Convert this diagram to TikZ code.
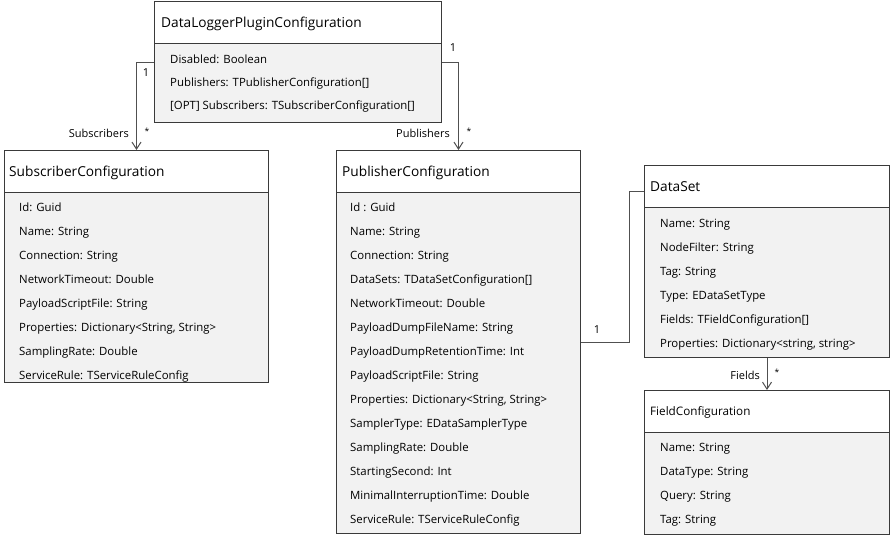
\documentclass[tikz,border=0pt]{standalone}
\usepackage{fontspec}
\setmainfont{Open Sans}
\usetikzlibrary{arrows.meta,calc}
\definecolor{boxc}{HTML}{3A3A3A}
\definecolor{connc}{HTML}{505050}
\definecolor{attrc}{HTML}{F2F2F2}
\newcommand\umlbox[6]{%
  \fill[attrc] (#2,#3+#6) rectangle (#2+#4,#3+#5);
  \draw[draw=boxc, line width=1pt] (#2,#3+#6) -- (#2+#4,#3+#6);
  \node[box, minimum width=#4pt, minimum height=#5pt] (#1) at (#2,#3) {};
}
\begin{document}
\begin{tikzpicture}[x=1pt,y=-1pt,
 box/.style={draw=boxc, line width=1pt, anchor=north west, inner sep=0pt},
 title/.style={anchor=base west, yshift=-5pt, font=\fontsize{13.7}{16}\selectfont, inner sep=0pt},
 smalltitle/.style={anchor=base west, yshift=-4.3pt, font=\fontsize{11.7}{14}\selectfont, inner sep=0pt},
 attr/.style={anchor=base west, yshift=-4pt, font=\fontsize{11.4}{13}\selectfont, inner sep=0pt},
 lbl/.style={font=\fontsize{11}{13}\selectfont, inner sep=0pt},
 star/.style={font=\fontsize{8.5}{10}\selectfont, inner sep=0pt},
 conn/.style={draw=connc, line width=1pt},
 arr/.style={conn, -{Straight Barb[length=7pt,width=9pt]}}]
\useasboundingbox (0,0) rectangle (891,536);

% DataLoggerPluginConfiguration
\umlbox{top}{154}{1}{287}{121}{42}
\node[title] (topt) at (161,22) {DataLoggerPluginConfiguration};
\node[attr] (ta1) at (170,59) {Disabled: Boolean};
\node[attr] (ta2) at (170,82) {Publishers: TPublisherConfiguration[]};
\node[attr] (ta3) at (170,105) {[OPT] Subscribers: TSubscriberConfiguration[]};

% SubscriberConfiguration
\umlbox{sub}{4}{150}{264}{232}{42}
\node[title] (subt) at (9,171) {SubscriberConfiguration};
\foreach \t [count=\i from 0] in {Id: Guid, Name: String, Connection: String, NetworkTimeout: Double, PayloadScriptFile: String, {Properties: Dictionary<String, String>}, SamplingRate: Double, ServiceRule: TServiceRuleConfig}
  \node[attr] (sa\i) at (19,207+24*\i) {\t};

% PublisherConfiguration
\umlbox{pub}{336}{150}{244}{383}{42}
\node[title] (pubt) at (342,171) {PublisherConfiguration};
\foreach \t [count=\i from 0] in {Id : Guid, Name: String, Connection: String, DataSets: TDataSetConfiguration[], NetworkTimeout: Double, PayloadDumpFileName: String, PayloadDumpRetentionTime: Int, PayloadScriptFile: String, {Properties: Dictionary<String, String>}, SamplerType: EDataSamplerType, SamplingRate: Double, StartingSecond: Int, MinimalInterruptionTime: Double, ServiceRule: TServiceRuleConfig}
  \node[attr] (pa\i) at (350,207+24*\i) {\t};

% DataSet
\umlbox{ds}{644}{165}{245}{192}{42}
\node[title] (dst) at (650,186) {DataSet};
\foreach \t [count=\i from 0] in {Name: String, NodeFilter: String, Tag: String, Type: EDataSetType, Fields: TFieldConfiguration[], {Properties: Dictionary<string, string>}}
  \node[attr] (da\i) at (660,223+24*\i) {\t};

% FieldConfiguration
\umlbox{fc}{644}{390}{245}{144}{42}
\node[smalltitle] (fct) at (650,411) {FieldConfiguration};
\foreach \t [count=\i from 0] in {Name: String, DataType: String, Query: String, Tag: String}
  \node[attr] (fa\i) at (660,447+24*\i) {\t};

% connectors
\draw[arr] (top.west) -| (sub.north);
\draw[arr] (top.east) -| (pub.north);
\draw[conn] (pub.east) -- ++(48,0) |- ([yshift=-26pt]ds.north west);
\draw[arr] (ds.south) -- (fc.north);

% labels
\node[lbl] (l1) at (146,73) {1};
\node[star] (l2) at (147,131) {*};
\node[lbl, anchor=east] (l3) at (129,133) {Subscribers};
\node[lbl] (l4) at (453,48) {1};
\node[lbl, anchor=east] (l5) at (450,133) {Publishers};
\node[star] (l6) at (469,131) {*};
\node[lbl] (l7) at (597,330) {1};
\node[lbl, anchor=east] (l8) at (760,375) {Fields};
\node[star] (l9) at (777,372) {*};
\end{tikzpicture}
\end{document}
